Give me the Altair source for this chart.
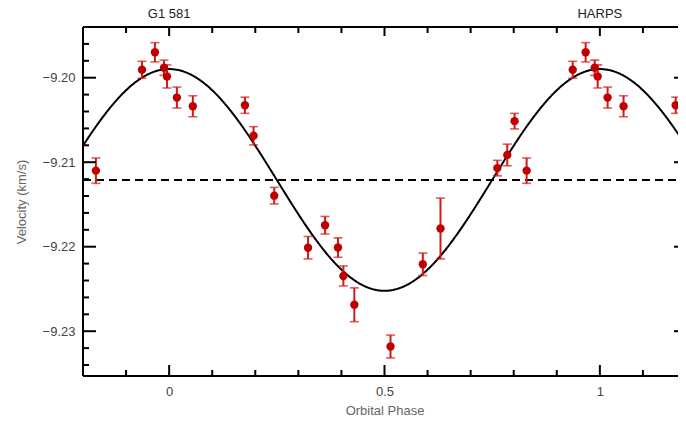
import altair as alt
import pandas as pd

# ---- data (phase-folded radial velocities) ----
PHASE = [0.937, 0.967, 0.988, 0.995, 0.018, 0.055, 0.176, 0.196, 0.244, 0.3225,
         0.362, 0.392, 0.4045, 0.430, 0.514, 0.589, 0.630, 0.762, 0.785, 0.802, 0.830]
VEL = [-9.19906, -9.19699, -9.19882, -9.19985, -9.20235, -9.20338, -9.20326, -9.20687,
       -9.21396, -9.22012, -9.21746, -9.22010, -9.22346, -9.22687, -9.23181, -9.22208,
       -9.21785, -9.21070, -9.20914, -9.20514, -9.21100]
ERR = [0.00100, 0.00114, 0.00090, 0.00137, 0.00124, 0.00124, 0.00096, 0.00108,
       0.00098, 0.00133, 0.00104, 0.00114, 0.00118, 0.00200, 0.00135, 0.00133,
       0.00360, 0.00092, 0.00128, 0.00092, 0.00150]

GAMMA = -9.2121      # systemic velocity (dashed line)
K = 0.01312          # semi-amplitude of the fitted orbit (km/s)

X_MAJOR = [0, 0.5, 1]
X_MINOR = [-0.1, 0.1, 0.2, 0.3, 0.4, 0.6, 0.7, 0.8, 0.9, 1.1]
Y_MAJOR = [-9.20, -9.21, -9.22, -9.23]
Y_MINOR = [-9.196, -9.198, -9.202, -9.204, -9.206, -9.208, -9.212, -9.214, -9.216,
           -9.218, -9.222, -9.224, -9.226, -9.228, -9.232, -9.234]
TOP_LABELS = ["G1 581", "HARPS"]
TOP_POS = [0, 1]

X_DOMAIN = [-0.2, 1.2]
Y_DOMAIN = [-9.2353, -9.1940]

VIEW_W = 595      # visible part of the plot (page width limit)
W, H = 603, 349   # full plot frame (right edge falls at the page edge)
FONT = "Liberation Sans"

# ---- build tables (folded data repeated over 1.4 cycles) ----
rows = []
for p, v, e in zip(PHASE, VEL, ERR):
    for shift in (-1, 0, 1):
        ps = p + shift
        if -0.18 <= ps <= 1.18:
            rows.append({"phase": ps, "vel": v, "lo": v - e, "hi": v + e})
pts = pd.DataFrame(rows)

XS = alt.Scale(domain=X_DOMAIN, range=[0, W], nice=False, zero=False)
YS = alt.Scale(domain=Y_DOMAIN, nice=False, zero=False)
XAX = alt.Axis(values=X_MAJOR, format="~g", title="Orbital Phase", domain=False,
               ticks=False, tickSize=0, grid=False, labelPadding=9, titlePadding=6,
               labelFont=FONT, labelFontSize=13, labelColor="#444",
               titleFont=FONT, titleFontSize=13, titleColor="#666", titleFontWeight="normal")
YAX = alt.Axis(values=Y_MAJOR, format=".2f", title="Velocity (km/s)", domain=False,
               ticks=False, tickSize=0, grid=False, labelPadding=8, titlePadding=14,
               labelFont=FONT, labelFontSize=13, labelColor="#444",
               titleFont=FONT, titleFontSize=13, titleColor="#666", titleFontWeight="normal")


def xe(f):
    return alt.X(f, type="quantitative", scale=XS, axis=XAX)


def ye(f):
    return alt.Y(f, type="quantitative", scale=YS, axis=YAX)


RED = "#c00000"
BAR = "#d21a1a"

bars = alt.Chart(pts).mark_rule(color=BAR, strokeWidth=2).encode(
    x=xe("phase"), y=ye("lo"), y2="hi")
cap_lo = alt.Chart(pts).mark_tick(color=BAR, orient="horizontal", size=9, thickness=1.6).encode(
    x=xe("phase"), y=ye("lo"))
cap_hi = alt.Chart(pts).mark_tick(color=BAR, orient="horizontal", size=9, thickness=1.6).encode(
    x=xe("phase"), y=ye("hi"))
dots = alt.Chart(pts).mark_circle(color=RED, opacity=1, size=70).encode(
    x=xe("phase"), y=ye("vel"))

curve = alt.Chart(alt.sequence(-0.2, 1.2005, 0.002, as_="phase")).transform_calculate(
    v=f"{GAMMA} + {K} * cos(2 * PI * datum.phase)"
).mark_line(color="black", strokeWidth=2).encode(x=xe("phase"), y=ye("v"))

dashed = alt.Chart(pts).mark_rule(color="black", strokeWidth=2, strokeDash=[8, 5]).encode(
    y=alt.datum(GAMMA, type="quantitative", scale=YS, axis=YAX),
    x=alt.value(0), x2=alt.value(W))

# ---- frame and inward ticks ----
frame_df = pd.DataFrame({"a": [0]})
left_line = alt.Chart(frame_df).mark_rule(color="black", strokeWidth=2).encode(
    x=alt.value(0), y=alt.value(0), y2=alt.value(H))
top_line = alt.Chart(frame_df).mark_rule(color="black", strokeWidth=2).encode(
    x=alt.value(0), x2=alt.value(W), y=alt.value(0))
bottom_line = alt.Chart(frame_df).mark_rule(color="black", strokeWidth=2).encode(
    x=alt.value(0), x2=alt.value(W), y=alt.value(H))

ymaj = pd.DataFrame({"t": Y_MAJOR})
ymin = pd.DataFrame({"t": Y_MINOR})
xmaj = pd.DataFrame({"t": X_MAJOR})
xmin = pd.DataFrame({"t": X_MINOR})

tk = dict(color="black", strokeWidth=2)
ticks = [
    alt.Chart(ymaj).mark_rule(**tk).encode(y=ye("t"), x=alt.value(0), x2=alt.value(13)),
    alt.Chart(ymin).mark_rule(**tk).encode(y=ye("t"), x=alt.value(0), x2=alt.value(6)),
    alt.Chart(ymaj).mark_rule(**tk).encode(y=ye("t"), x=alt.value(W), x2=alt.value(W - 12)),
    alt.Chart(ymin).mark_rule(**tk).encode(y=ye("t"), x=alt.value(W), x2=alt.value(W - 5)),
    alt.Chart(xmaj).mark_rule(**tk).encode(x=xe("t"), y=alt.value(H), y2=alt.value(H - 11)),
    alt.Chart(xmin).mark_rule(**tk).encode(x=xe("t"), y=alt.value(H), y2=alt.value(H - 6)),
    alt.Chart(xmaj).mark_rule(**tk).encode(x=xe("t"), y=alt.value(0), y2=alt.value(9)),
    alt.Chart(xmin).mark_rule(**tk).encode(x=xe("t"), y=alt.value(0), y2=alt.value(6)),
]

top_text = alt.Chart(pd.DataFrame({"t": TOP_POS, "label": TOP_LABELS})).mark_text(
    font=FONT, fontSize=13, color="#222", baseline="middle", align="center"
).encode(x=xe("t"), y=alt.value(-13), text="label:N")

chart = alt.layer(
    curve, dashed, bars, cap_lo, cap_hi, dots,
    left_line, top_line, bottom_line, *ticks, top_text
).properties(
    width=VIEW_W, height=H,
    autosize=alt.AutoSizeParams(type="none"),
    padding={"left": 75, "top": 19, "right": 0, "bottom": 44},
).configure_view(stroke=None)

chart.save("out.html", embed_options={"renderer": "svg", "actions": False})
